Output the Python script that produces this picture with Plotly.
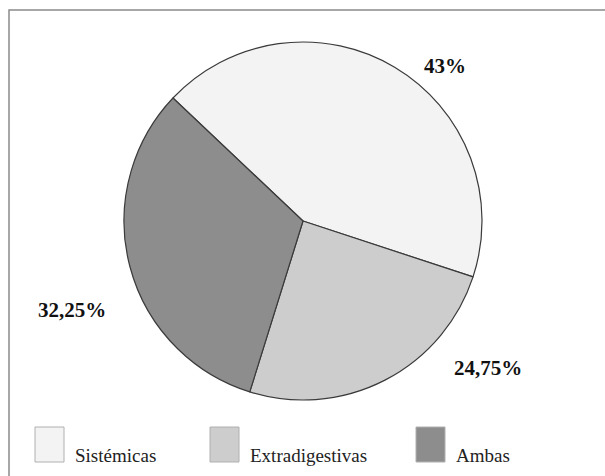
import plotly.graph_objects as go

# Data
categories = ["Sistémicas", "Extradigestivas", "Ambas"]
values = [43.0, 24.75, 32.25]
colors = ["#f3f3f3", "#cdcdcd", "#8d8d8d"]

W, H = 605, 476
SERIF = "Liberation Serif"

def fmt(v):
    s = ("%g" % v).replace(".", ",")
    return s + "%"

fig = go.Figure()

# Pie placement (pixels): centre (303, 221), radius 179
cx, cy, r = 303, 221, 179
fig.add_trace(go.Pie(
    labels=categories,
    values=values,
    sort=False,
    direction="clockwise",
    rotation=-46.6,
    marker=dict(colors=colors, line=dict(color="#3a3a3a", width=1.2)),
    textinfo="none",
    hoverinfo="label+percent",
    showlegend=False,
    domain=dict(x=[(cx - r) / W, (cx + r) / W],
                y=[1 - (cy + r) / H, 1 - (cy - r) / H]),
))

# Percentage labels (pixel positions of label centres)
label_pos = [(445, 66), (488, 368), (72, 310)]
for v, (px, py) in zip(values, label_pos):
    fig.add_annotation(
        x=px / W, y=1 - py / H, xref="paper", yref="paper",
        text=fmt(v), showarrow=False,
        xanchor="center", yanchor="middle",
        font=dict(family=SERIF, size=21, color="#111111", weight="bold"),
    )

# Outer frame
fig.add_shape(type="rect", xref="paper", yref="paper",
              x0=9 / W, x1=1.02, y0=-0.02, y1=1 - 10 / H,
              line=dict(color="#8a8a8a", width=1.5), fillcolor="rgba(0,0,0,0)")

# Custom legend at bottom
swatch_x = [35, 210, 416]
for cat, col, sx in zip(categories, colors, swatch_x):
    fig.add_shape(type="rect", xref="paper", yref="paper",
                  x0=sx / W, x1=(sx + 29) / W,
                  y0=1 - 462 / H, y1=1 - 427 / H,
                  line=dict(color="#b0b0b0", width=1), fillcolor=col)
    fig.add_annotation(
        x=(sx + 38) / W, y=1 - 455 / H, xref="paper", yref="paper",
        text=cat, showarrow=False, xanchor="left", yanchor="middle",
        font=dict(family=SERIF, size=19, color="#222222"),
    )

fig.update_layout(
    width=W, height=H,
    margin=dict(l=0, r=0, t=0, b=0),
    paper_bgcolor="white", plot_bgcolor="white",
)

fig.write_html("out.html")
